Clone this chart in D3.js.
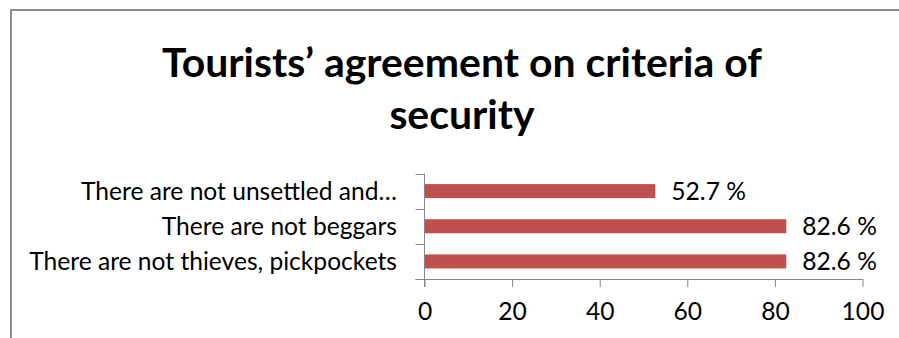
<!DOCTYPE html>
<html>
<head>
<meta charset="utf-8">
<script src="https://cdn.jsdelivr.net/npm/d3@7"></script>
<style>
  html, body { margin: 0; padding: 0; background: #fff; }
  svg { display: block; font-family: Lato, "Open Sans", sans-serif; }
</style>
</head>
<body>
<svg id="chart" width="899" height="338"></svg>
<script>
// Survey results: share of tourists agreeing with each security criterion
const categories = [
  "There are not unsettled and\u2026",
  "There are not beggars",
  "There are not thieves, pickpockets"
];
const values = [52.7, 82.6, 82.6];
const xTicks = [0, 20, 40, 60, 80, 100];
const titleLines = ["Tourists\u2019 agreement on criteria of", "security"];

const svg = d3.select("#chart");
const W = 899, H = 338;

// Outer chart frame (runs off the right and bottom edges)
svg.append("path")
  .attr("d", `M11,${H + 5} V10 H${W + 5}`)
  .attr("fill", "none")
  .attr("stroke", "#8a8a8a")
  .attr("stroke-width", 2);

// Helper: pick a font size so a text element spans the given width
function fitWidth(sel, target) {
  const node = sel.node();
  const fs = parseFloat(sel.attr("font-size"));
  const w = node.getComputedTextLength();
  sel.attr("font-size", (fs * target / w).toFixed(2));
}

// Title
const titleX = 462;
const t1 = svg.append("text")
  .attr("x", titleX).attr("y", 77)
  .attr("text-anchor", "middle")
  .attr("font-weight", "bold")
  .attr("font-size", 36)
  .attr("fill", "#000")
  .text(titleLines[0]);
fitWidth(t1, 600);
const titleSize = t1.attr("font-size");
svg.append("text")
  .attr("x", titleX).attr("y", 129)
  .attr("text-anchor", "middle")
  .attr("font-weight", "bold")
  .attr("font-size", titleSize)
  .attr("fill", "#000")
  .text(titleLines[1]);

// Plot area
const plot = { left: 424.5, right: 862.5, top: 173.5, bottom: 279 };

const x = d3.scaleLinear()
  .domain([0, 100])
  .range([plot.left, plot.right]);

const y = d3.scaleBand()
  .domain(categories)
  .range([plot.top, plot.bottom])
  .paddingInner(0)
  .paddingOuter(0);

const barH = 14;
const axisColor = "#868686";

// Category labels
const catLabels = svg.append("g")
  .selectAll("text")
  .data(categories)
  .join("text")
  .attr("x", 397)
  .attr("y", d => y(d) + y.bandwidth() / 2)
  .attr("dy", "0.35em")
  .attr("text-anchor", "end")
  .attr("font-size", 21)
  .attr("fill", "#000")
  .text(d => d);
// size labels so the longest one spans its measured width
const longest = catLabels.filter((d, i) => i === 2);
fitWidth(longest, 368);
const labelSize = longest.attr("font-size");
catLabels.attr("font-size", labelSize);

// Bars
svg.append("g")
  .selectAll("rect")
  .data(values)
  .join("rect")
  .attr("x", x(0))
  .attr("y", (d, i) => y(categories[i]) + y.bandwidth() / 2 - barH / 2)
  .attr("width", d => x(d) - x(0))
  .attr("height", barH)
  .attr("fill", "#C0504D");

// X axis
const xAxis = svg.append("g")
  .attr("transform", `translate(0,${plot.bottom})`)
  .call(d3.axisBottom(x).tickValues(xTicks).tickSize(8).tickSizeOuter(0).tickPadding(16));
xAxis.select(".domain").attr("stroke", axisColor).attr("d", `M${plot.left - 9},0.5H${plot.right}`);
xAxis.selectAll(".tick line").attr("stroke", axisColor);
xAxis.selectAll(".tick text")
  .attr("fill", "#000")
  .attr("font-size", labelSize)
  .attr("font-family", "Lato, sans-serif");

// Y axis: ticks sit on the category boundaries
const boundaries = d3.range(categories.length + 1).map(i => plot.top + i * y.step());
const yAxisG = svg.append("g");
yAxisG.append("line")
  .attr("x1", plot.left).attr("x2", plot.left)
  .attr("y1", plot.top).attr("y2", plot.bottom + 8)
  .attr("stroke", axisColor);
yAxisG.selectAll("line.tick")
  .data(boundaries)
  .join("line")
  .attr("class", "tick")
  .attr("x1", plot.left - 9).attr("x2", plot.left)
  .attr("y1", d => Math.round(d) + 0.5).attr("y2", d => Math.round(d) + 0.5)
  .attr("stroke", axisColor);

// Value labels
svg.append("g")
  .selectAll("text")
  .data(values)
  .join("text")
  .attr("x", d => x(d) + 16)
  .attr("y", (d, i) => y(categories[i]) + y.bandwidth() / 2)
  .attr("dy", "0.35em")
  .attr("font-size", labelSize)
  .attr("fill", "#000")
  .text(d => d.toFixed(1) + " %");
</script>
</body>
</html>
